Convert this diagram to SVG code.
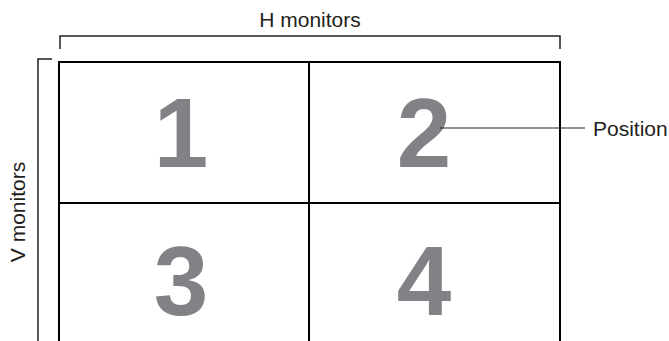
<svg xmlns="http://www.w3.org/2000/svg" width="669" height="341" viewBox="0 0 669 341">
<style>
.lbl{font-family:"Liberation Sans",Arial,sans-serif;font-size:21px;fill:#231f20}
.num{font-family:"Liberation Sans",Arial,sans-serif;font-size:98px;font-weight:bold;fill:#808285;text-anchor:middle}
.grid{fill:none;stroke:#000;stroke-width:2}
.br{fill:none;stroke:#231f20;stroke-width:1.5}
.lead{fill:none;stroke:#231f20;stroke-width:1}
</style>
<rect width="669" height="341" fill="#fff"/>
<g id="h-bracket">
<path class="br" d="M60,49 V36 H560 V49"/>
<text class="lbl" x="310" y="27" text-anchor="middle">H monitors</text>
</g>
<g id="v-bracket">
<path class="br" d="M52,59 H38 V345"/>
<text class="lbl" transform="translate(25,212) rotate(-90)" text-anchor="middle">V monitors</text>
</g>
<g id="grid">
<rect class="grid" x="59" y="62" width="501" height="290"/>
<line class="grid" x1="309" y1="62" x2="309" y2="345"/>
<line class="grid" x1="59" y1="203" x2="560" y2="203"/>
</g>
<g id="monitor1"><text class="num" x="181" y="167">1</text></g>
<g id="monitor2"><text class="num" x="424" y="167">2</text></g>
<g id="monitor3"><text class="num" x="181" y="315">3</text></g>
<g id="monitor4"><text class="num" x="424" y="315">4</text></g>
<g id="connectors">
<line class="lead" x1="440" y1="128" x2="585" y2="128"/>
</g>
<g id="position-label">
<text class="lbl" x="593" y="136">Position</text>
</g>
</svg>
